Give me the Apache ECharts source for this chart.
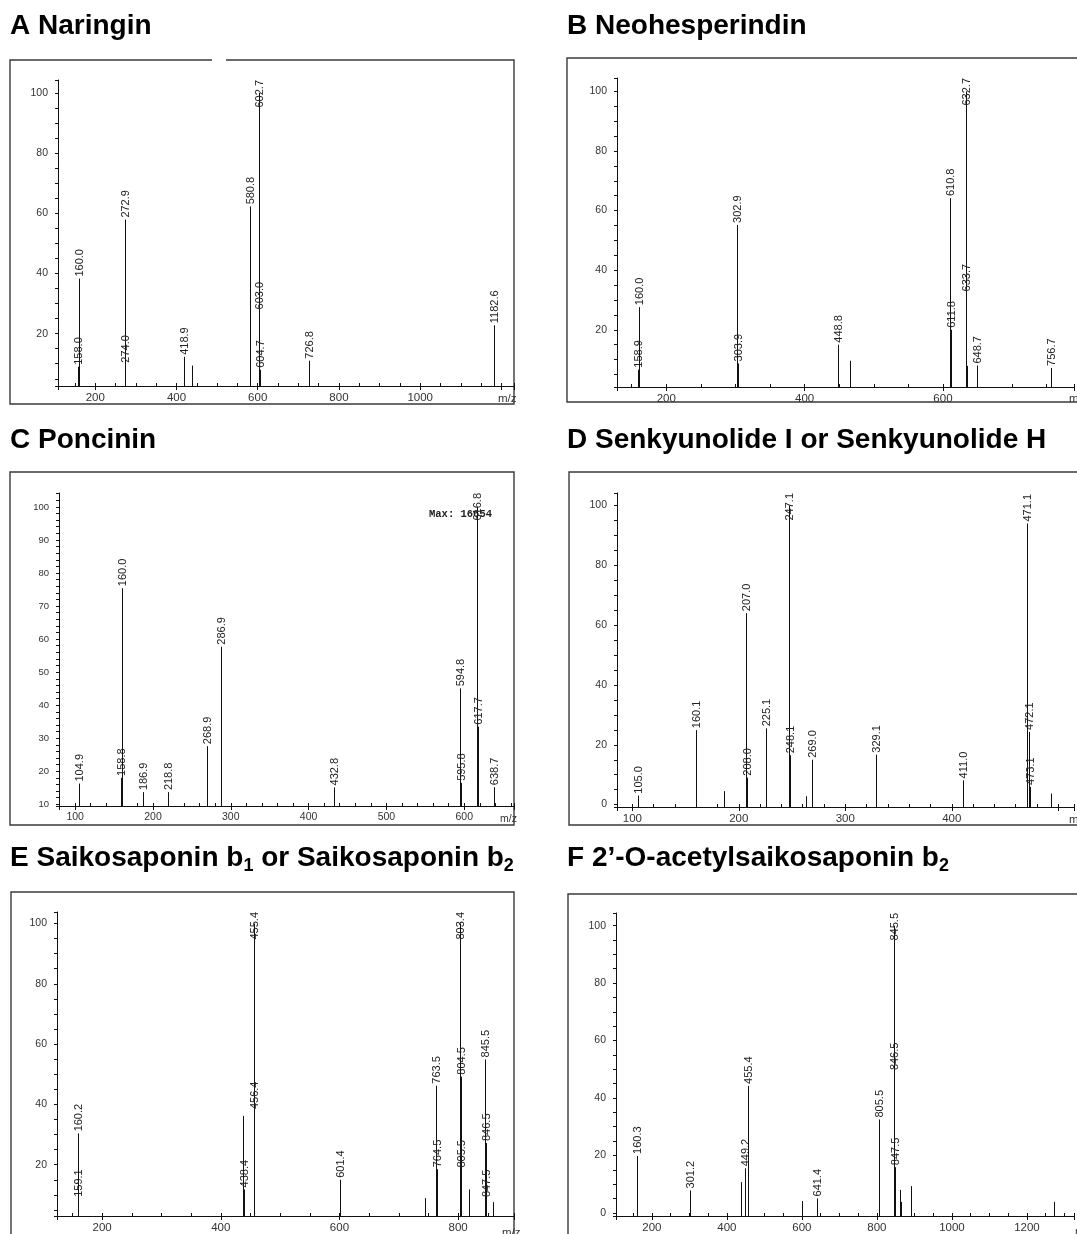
<!DOCTYPE html>
<html><head><meta charset="utf-8">
<script src="https://cdn.jsdelivr.net/npm/echarts@6.0.0/dist/echarts.min.js"></script>
<style>html,body{margin:0;padding:0;background:#fff;}#chart{width:1077px;height:1234px;}</style>
</head><body><div id="chart"></div>
<script>
// ---------------- DATA ----------------
// A Naringin
const aMz  = [158.0, 160.0, 272.9, 274.0, 418.9, 438.0, 580.8, 582.0, 602.7, 603.0, 604.7, 726.8, 1182.6];
const aInt = [9.0, 38.3, 57.9, 9.7, 12.3, 9.4, 62.3, 18.3, 100, 27.4, 8.0, 11.0, 22.8];
const aLab = ['158.0','160.0','272.9','274.0','418.9','','580.8','','602.7','603.0','604.7','726.8','1182.6'];
// B Neohesperindin
const bMz  = [158.9, 160.0, 302.9, 303.9, 448.8, 465.6, 610.8, 611.8, 632.7, 633.7, 634.7, 648.7, 756.7];
const bInt = [6.6, 27.6, 55.2, 8.7, 15.0, 9.6, 64.2, 20.0, 100, 32.2, 7.9, 8.0, 7.2];
const bLab = ['158.9','160.0','302.9','303.9','448.8','','610.8','611.8','632.7','633.7','','648.7','756.7'];
// C Poncinin
const cMz  = [104.9, 158.8, 160.0, 186.9, 218.8, 268.9, 286.9, 432.8, 594.8, 595.8, 616.8, 617.7, 638.7];
const cInt = [16.3, 18.0, 75.4, 13.7, 13.7, 27.6, 57.7, 15.1, 45.1, 16.5, 100, 33.5, 15.2];
const cLab = ['104.9','158.8','160.0','186.9','218.8','268.9','286.9','432.8','594.8','595.8','616.8','617.7','638.7'];
// D Senkyunolide I or H
const dMz  = [105.0, 160.1, 186.5, 207.0, 208.0, 225.1, 247.1, 248.1, 263.0, 269.0, 329.1, 411.0, 471.1, 472.1, 473.1, 493.2];
const dInt = [3.0, 24.9, 4.5, 64.0, 9.0, 25.5, 100, 16.5, 2.8, 15.0, 16.7, 8.1, 94, 24.3, 5.9, 3.7];
const dLab = ['105.0','160.1','','207.0','208.0','225.1','247.1','248.1','','269.0','329.1','411.0','471.1','472.1','473.1',''];
// E Saikosaponin b1 or b2
const eMz  = [159.1, 160.2, 437.0, 438.4, 455.4, 456.4, 601.4, 745.0, 763.5, 764.5, 803.4, 804.5, 805.5, 818.0, 845.5, 846.5, 847.5, 859.0];
const eInt = [8.7, 30.4, 36.2, 11.8, 100, 37.8, 15.0, 8.9, 46.2, 18.5, 100, 49.2, 18.4, 11.8, 54.9, 27.2, 8.6, 7.6];
const eLab = ['159.1','160.2','','438.4','455.4','456.4','601.4','','763.5','764.5','803.4','804.5','805.5','','845.5','846.5','847.5',''];
// F 2'-O-acetylsaikosaponin b2
const fMz  = [160.3, 301.2, 436.7, 449.2, 455.4, 600.8, 641.4, 805.5, 806.5, 845.5, 846.5, 847.5, 861.8, 863.5, 890.0, 1273.0];
const fInt = [19.8, 7.8, 10.7, 15.5, 44.2, 4.1, 5.0, 32.5, 14.7, 100, 49.0, 15.9, 8.0, 3.8, 9.3, 3.8];
const fLab = ['160.3','301.2','','449.2','455.4','','641.4','805.5','','845.5','846.5','847.5','','','',''];

// ---------------- LAYOUT ----------------
const FONT = '"Liberation Sans", Arial, Helvetica, sans-serif';
const panels = [
  {mz:aMz, it:aInt, lb:aLab, grid:{left:58, top:80, width:456, height:306}, x:[108.3,1231], y:[2.6,104.3], xMaj:200, xMin:50, yTick:5, yLab:20, skip:[1200], fs:11.5},
  {mz:bMz, it:bInt, lb:bLab, grid:{left:617, top:78, width:471, height:309}, x:[128.7,789.5], y:[0.8,104.5], xMaj:200, xMin:50, yTick:5, yLab:20, skip:[], fs:11.5},
  {mz:cMz, it:cInt, lb:cLab, grid:{left:59, top:493, width:455, height:313}, x:[79.2,664], y:[9.5,104.2], xMaj:100, xMin:20, yTick:2, yLab:10, skip:[], fs:10.5},
  {mz:dMz, it:dInt, lb:dLab, grid:{left:617, top:493, width:471, height:314}, x:[85.6,514.8], y:[-0.8,104.2], xMaj:100, xMin:20, yTick:5, yLab:20, skip:[500], fs:11.5},
  {mz:eMz, it:eInt, lb:eLab, grid:{left:57, top:912, width:457, height:309}, x:[124,894.2], y:[3,103.8], xMaj:200, xMin:50, yTick:5, yLab:20, skip:[], fs:11.5},
  {mz:fMz, it:fInt, lb:fLab, grid:{left:616, top:913, width:474, height:306}, x:[104.4,1325.4], y:[-1.1,104.4], xMaj:200, xMin:50, yTick:5, yLab:20, skip:[], fs:11.5}
];

function isMult(v, step){ const r = v/step; return Math.abs(r - Math.round(r)) < 1e-6; }
function labLen(s){ let n=0; for (const ch of s) n += (ch === '.') ? 3.06 : 6.12; return n; }

const grids = [], xAxes = [], yAxes = [], series = [];
panels.forEach((p, i) => {
  grids.push(Object.assign({containLabel:false}, p.grid));
  // major x axis
  xAxes.push({
    type:'value', gridIndex:i, position:'bottom', min:p.x[0], max:p.x[1],
    minInterval:p.xMaj, maxInterval:p.xMaj,
    axisLine:{show:true, onZero:false, lineStyle:{color:'#111', width:1}},
    axisTick:{show:true, inside:false, length:4, lineStyle:{color:'#111'}},
    axisLabel:{show:true, margin:6, fontSize:p.fs, fontFamily:FONT, color:'#333',
      formatter: v => (isMult(v, p.xMaj) && p.skip.indexOf(Math.round(v)) < 0) ? String(Math.round(v)) : ''},
    splitLine:{show:false}
  });
  // minor x axis (inside ticks)
  xAxes.push({
    type:'value', gridIndex:i, position:'bottom', min:p.x[0], max:p.x[1],
    minInterval:p.xMin, maxInterval:p.xMin,
    axisLine:{show:false, onZero:false},
    axisTick:{show:true, inside:true, length:3, lineStyle:{color:'#111'}},
    axisLabel:{show:false}, splitLine:{show:false}
  });
  yAxes.push({
    type:'value', gridIndex:i, position:'left', min:p.y[0], max:p.y[1],
    minInterval:p.yTick, maxInterval:p.yTick,
    axisLine:{show:true, onZero:false, lineStyle:{color:'#111', width:1}},
    axisTick:{show:true, inside:false, length:3, lineStyle:{color:'#111'}},
    axisLabel:{show:true, margin:10, fontSize:p.fs - 1, fontFamily:FONT, color:'#333',
      formatter: v => isMult(v, p.yLab) ? String(Math.round(v)) : ''},
    splitLine:{show:false}
  });
  const data = p.mz.map((m, k) => [m, p.it[k]]);
  const labels = p.lb;
  series.push({
    type:'custom', coordinateSystem:'cartesian2d', xAxisIndex:i*2, yAxisIndex:i,
    data: data, clip:false, silent:true, animation:false,
    encode:{x:0, y:1},
    renderItem: function(params, api){
      const cs = params.coordSys;
      const pt = api.coord([api.value(0), api.value(1)]);
      const px = Math.round(pt[0]) + 0.5;
      const yBot = cs.y + cs.height;
      const yTop = pt[1];
      const children = [{type:'line', shape:{x1:px, y1:yBot, x2:px, y2:yTop}, style:{stroke:'#111', lineWidth:1}}];
      const lab = labels[params.dataIndex];
      if (lab) {
        const len = labLen(lab);
        let ay = yTop - 2, align = 'left';
        if (ay - len < cs.y) { ay = cs.y; align = 'right'; }
        children.push({type:'text', x:px, y:ay, rotation:Math.PI/2,
          style:{text:lab, align:align, verticalAlign:'middle', font:'11px ' + FONT, fill:'#222'}});
      }
      return {type:'group', children:children};
    }
  });
});

// ---------------- DECORATION ----------------
const boxStyle = {fill:'none', stroke:'#3a3a3a', lineWidth:1.4};
const titleFont = 'bold 28px ' + FONT;
const richTitle = {
  m:{fontSize:28, fontWeight:'bold', fontFamily:FONT, lineHeight:34, verticalAlign:'middle', fill:'#000', color:'#000'},
  s:{fontSize:18, fontWeight:'bold', fontFamily:FONT, lineHeight:18, verticalAlign:'bottom', fill:'#000', color:'#000'}
};
const graphic = [
  {type:'rect', shape:{x:10, y:60, width:504, height:344}, style:boxStyle, silent:true},
  {type:'rect', shape:{x:212, y:57, width:14, height:6}, style:{fill:'#fff'}, silent:true},
  {type:'rect', shape:{x:567, y:58, width:560, height:344}, style:boxStyle, silent:true},
  {type:'rect', shape:{x:10, y:472, width:504, height:353}, style:boxStyle, silent:true},
  {type:'rect', shape:{x:569, y:472, width:560, height:353}, style:boxStyle, silent:true},
  {type:'rect', shape:{x:11, y:892, width:503, height:400}, style:boxStyle, silent:true},
  {type:'rect', shape:{x:568, y:894, width:560, height:400}, style:boxStyle, silent:true},
  {type:'text', x:10, y:26, style:{text:'A Naringin', font:titleFont, fill:'#000', verticalAlign:'middle'}},
  {type:'text', x:567, y:26, style:{text:'B Neohesperindin', font:titleFont, fill:'#000', verticalAlign:'middle'}},
  {type:'text', x:10, y:440, style:{text:'C Poncinin', font:titleFont, fill:'#000', verticalAlign:'middle'}},
  {type:'text', x:567, y:440, style:{text:'D Senkyunolide I or Senkyunolide H', font:titleFont, fill:'#000', verticalAlign:'middle'}},
  {type:'text', x:10, y:858, style:{text:'{m|E Saikosaponin b}{s|1}{m| or Saikosaponin b}{s|2}', rich:richTitle, verticalAlign:'middle'}},
  {type:'text', x:567, y:858, style:{text:'{m|F 2\u2019-O-acetylsaikosaponin b}{s|2}', rich:richTitle, verticalAlign:'middle'}},
  {type:'text', x:498, y:399, style:{text:'m/z', font:'11.5px ' + FONT, fill:'#333', verticalAlign:'middle'}},
  {type:'text', x:1069, y:399, style:{text:'m/z', font:'11.5px ' + FONT, fill:'#333', verticalAlign:'middle'}},
  {type:'text', x:500, y:819, style:{text:'m/z', font:'10.5px ' + FONT, fill:'#333', verticalAlign:'middle'}},
  {type:'text', x:1069, y:820, style:{text:'m/z', font:'11.5px ' + FONT, fill:'#333', verticalAlign:'middle'}},
  {type:'text', x:502, y:1233, style:{text:'m/z', font:'11.5px ' + FONT, fill:'#333', verticalAlign:'middle'}},
  {type:'text', x:1075, y:1232, style:{text:'m/z', font:'11.5px ' + FONT, fill:'#333', verticalAlign:'middle'}},
  {type:'text', x:429, y:514, style:{text:'Max: 16654', font:'bold 10.5px "Liberation Mono", "DejaVu Sans Mono", monospace', fill:'#222', verticalAlign:'middle'}}
];

const chart = echarts.init(document.getElementById('chart'), null, {renderer:'canvas'});
chart.setOption({
  animation:false,
  backgroundColor:'#fff',
  grid:grids, xAxis:xAxes, yAxis:yAxes, series:series, graphic:graphic
});
</script></body></html>
